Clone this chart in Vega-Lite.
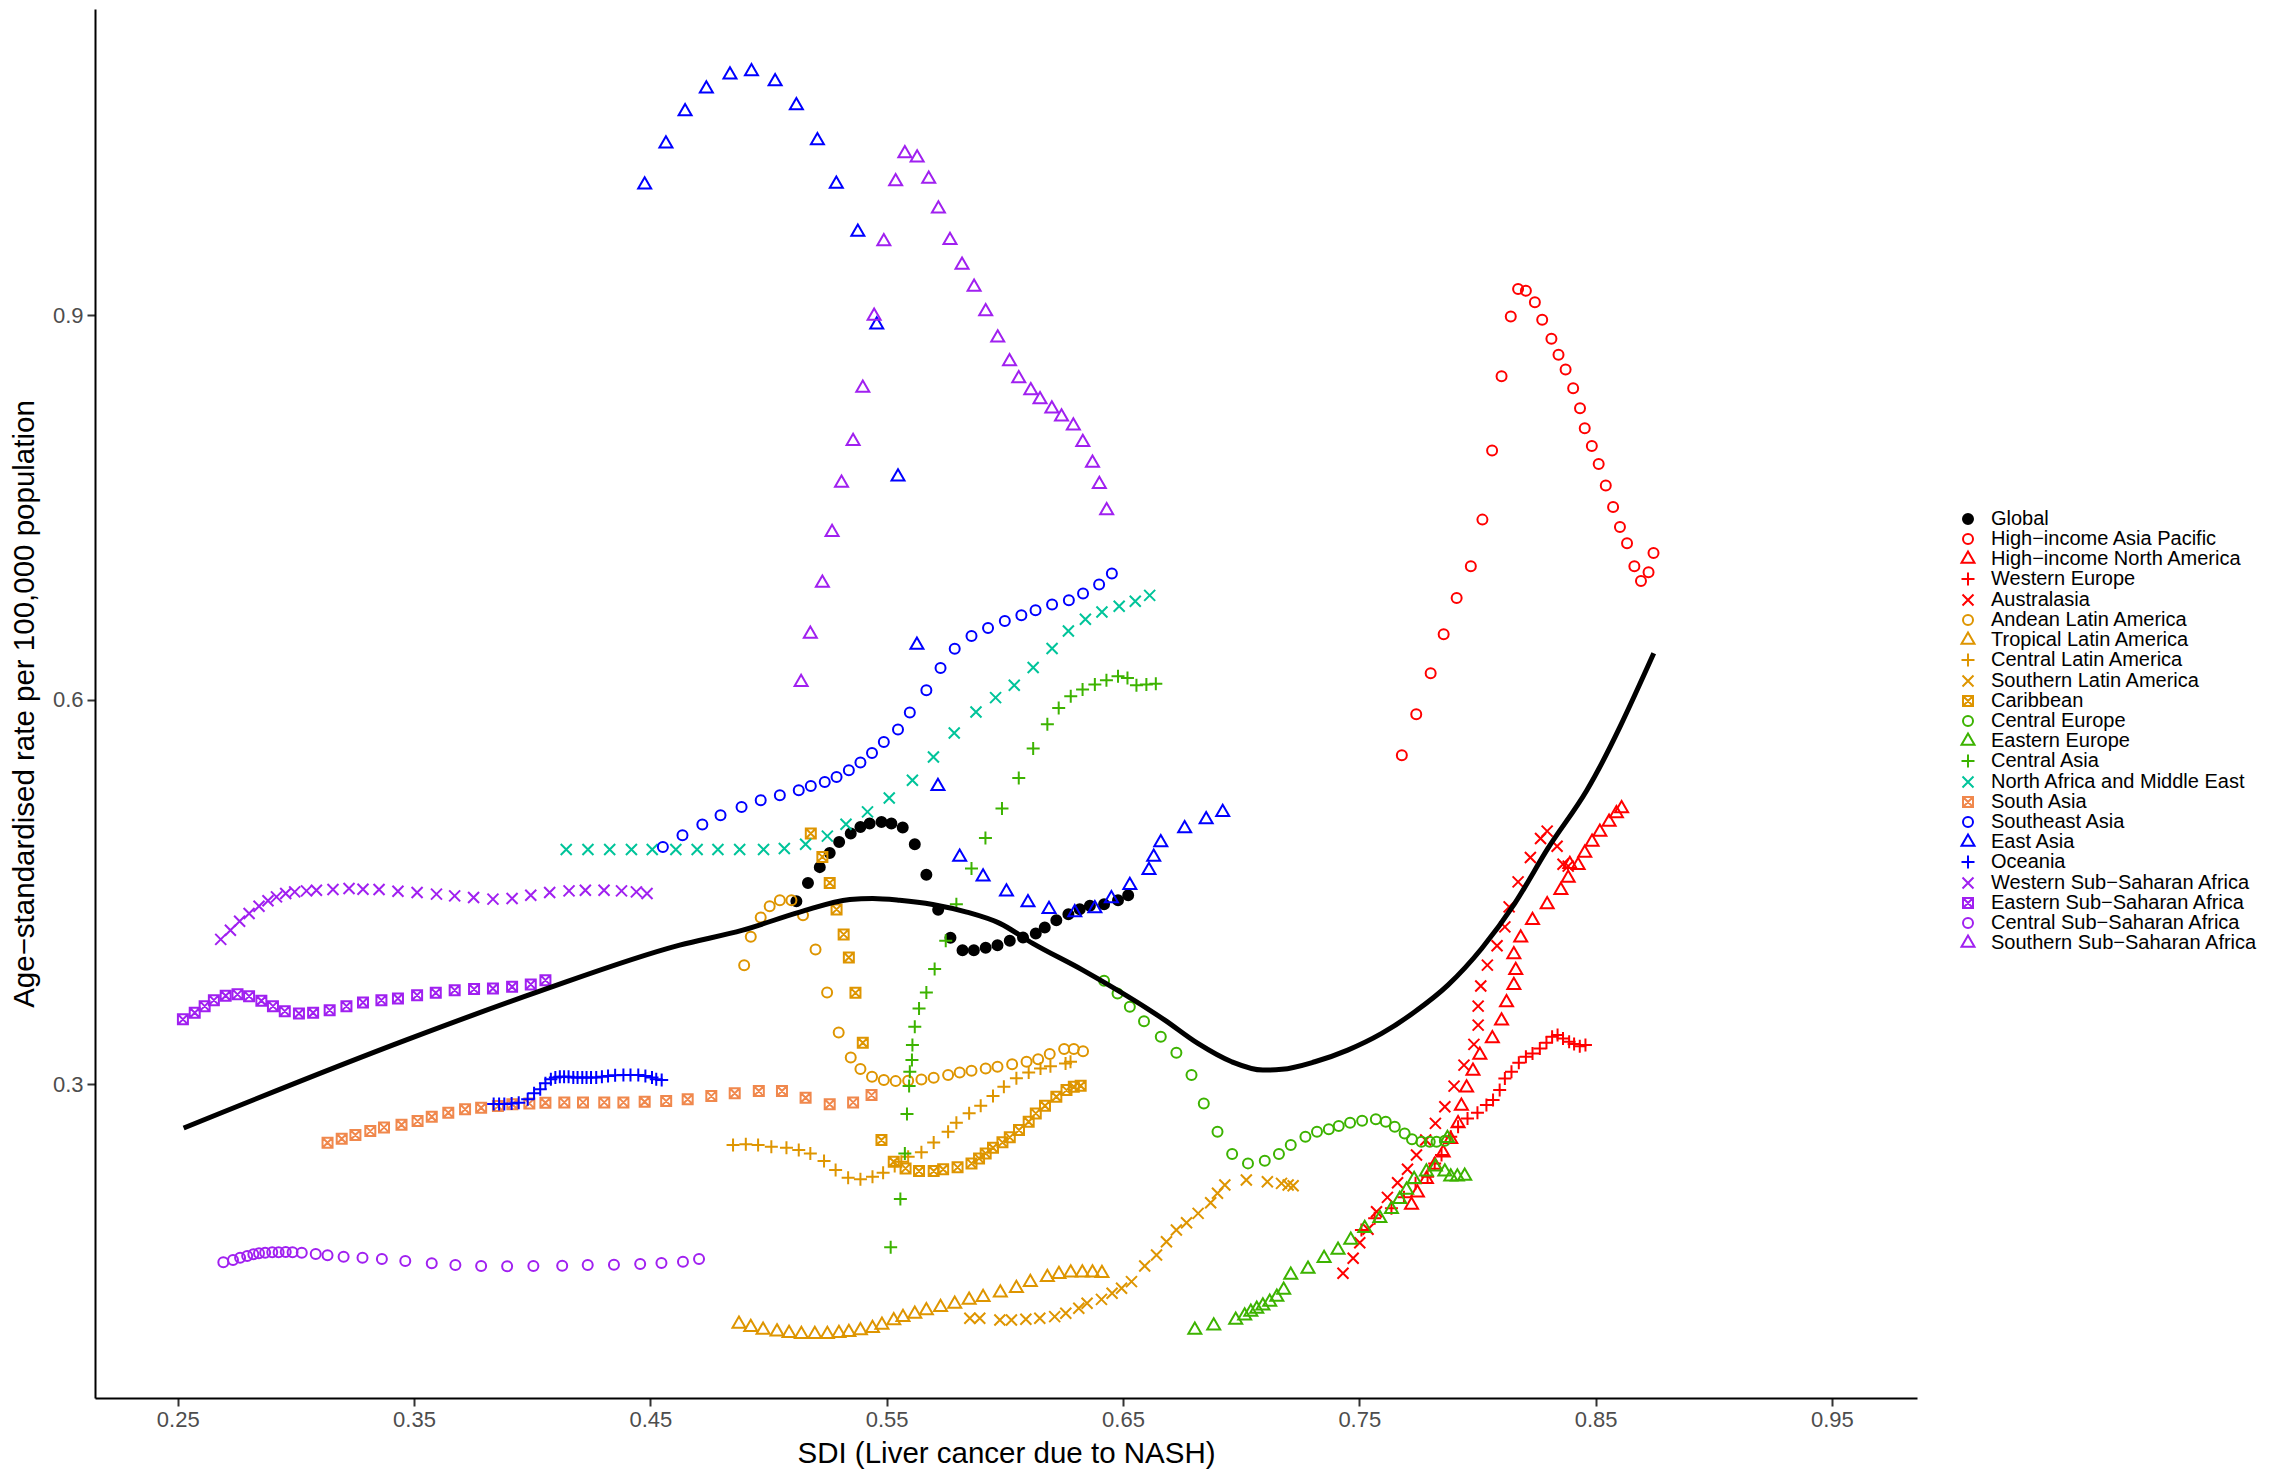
{
"$schema": "https://vega.github.io/schema/vega-lite/v6.json",
"width": 1822, "height": 1389,
"autosize": {"type": "none"},
"padding": {"left": 95, "top": 9, "right": 368, "bottom": 74},
"background": "white",
"config": {
 "view": {"stroke": null},
 "font": "Liberation Sans",
 "axis": {"grid": false, "domainColor": "black", "domainWidth": 2, "tickColor": "#333333", "tickWidth": 2, "tickSize": 8,
  "labelColor": "#4d4d4d", "labelFontSize": 22, "labelFont": "Liberation Sans",
  "titleFont": "Liberation Sans", "titleFontSize": 29.5, "titleFontWeight": "normal", "titleColor": "black"},
 "legend": {"labelFont": "Liberation Sans", "labelFontSize": 20, "labelColor": "black", "labelLimit": 0, "symbolStrokeWidth": 2, "symbolSize": 100,
  "rowPadding": -2, "labelOffset": 13, "padding": 0, "orient": "none", "legendX": 1863, "legendY": 500}
},
"datasets": {
 "regions": [
  {"c": "GL", "region": "Global"},
  {"c": "HAP", "region": "High−income Asia Pacific"},
  {"c": "HNA", "region": "High−income North America"},
  {"c": "WE", "region": "Western Europe"},
  {"c": "AUS", "region": "Australasia"},
  {"c": "ALA", "region": "Andean Latin America"},
  {"c": "TLA", "region": "Tropical Latin America"},
  {"c": "CLA", "region": "Central Latin America"},
  {"c": "SLA", "region": "Southern Latin America"},
  {"c": "CAR", "region": "Caribbean"},
  {"c": "CE", "region": "Central Europe"},
  {"c": "EE", "region": "Eastern Europe"},
  {"c": "CA", "region": "Central Asia"},
  {"c": "NAME", "region": "North Africa and Middle East"},
  {"c": "SA", "region": "South Asia"},
  {"c": "SEA", "region": "Southeast Asia"},
  {"c": "EA", "region": "East Asia"},
  {"c": "OC", "region": "Oceania"},
  {"c": "WSSA", "region": "Western Sub−Saharan Africa"},
  {"c": "ESSA", "region": "Eastern Sub−Saharan Africa"},
  {"c": "CSSA", "region": "Central Sub−Saharan Africa"},
  {"c": "SSSA", "region": "Southern Sub−Saharan Africa"}
 ],
 "smooth": [
  {"x": 0.2525, "y": 0.2657}, {"x": 0.3465, "y": 0.3343}, {"x": 0.4032, "y": 0.3725}, {"x": 0.4624, "y": 0.4084},
  {"x": 0.4891, "y": 0.4201}, {"x": 0.5132, "y": 0.4342}, {"x": 0.5344, "y": 0.4441}, {"x": 0.5441, "y": 0.4449},
  {"x": 0.5555, "y": 0.4435}, {"x": 0.5695, "y": 0.4402}, {"x": 0.5839, "y": 0.4342}, {"x": 0.5979, "y": 0.4254},
  {"x": 0.6118, "y": 0.4098}, {"x": 0.6330, "y": 0.3889}, {"x": 0.6677, "y": 0.3499}, {"x": 0.6817, "y": 0.3317},
  {"x": 0.6960, "y": 0.3174}, {"x": 0.7092, "y": 0.3109}, {"x": 0.7172, "y": 0.3115}, {"x": 0.7312, "y": 0.3174},
  {"x": 0.7451, "y": 0.3265}, {"x": 0.7595, "y": 0.3395}, {"x": 0.7735, "y": 0.3564}, {"x": 0.7875, "y": 0.3772},
  {"x": 0.8018, "y": 0.4058}, {"x": 0.8158, "y": 0.4410}, {"x": 0.8298, "y": 0.4839}, {"x": 0.8463, "y": 0.5293},
  {"x": 0.8746, "y": 0.6362}
 ],
 "pts": [
  {"c":"GL","x":0.5118,"y":0.4427},{"c":"GL","x":0.5167,"y":0.4570},{"c":"GL","x":0.5217,"y":0.4693},{"c":"GL","x":0.5259,"y":0.4804},{"c":"GL","x":0.5299,"y":0.4890},{"c":"GL","x":0.5348,"y":0.4956},{"c":"GL","x":0.5389,"y":0.5007},{"c":"GL","x":0.5428,"y":0.5033},{"c":"GL","x":0.5478,"y":0.5046},{"c":"GL","x":0.5520,"y":0.5033},{"c":"GL","x":0.5568,"y":0.5002},{"c":"GL","x":0.5619,"y":0.4872},{"c":"GL","x":0.5668,"y":0.4634},{"c":"GL","x":0.5718,"y":0.4361},{"c":"GL","x":0.5770,"y":0.4142},{"c":"GL","x":0.5821,"y":0.4045},{"c":"GL","x":0.5869,"y":0.4045},{"c":"GL","x":0.5919,"y":0.4063},{"c":"GL","x":0.5969,"y":0.4084},{"c":"GL","x":0.6021,"y":0.4118},{"c":"GL","x":0.6077,"y":0.4144},{"c":"GL","x":0.6131,"y":0.4175},{"c":"GL","x":0.6169,"y":0.4222},{"c":"GL","x":0.6218,"y":0.4279},{"c":"GL","x":0.6269,"y":0.4326},{"c":"GL","x":0.6317,"y":0.4365},{"c":"GL","x":0.6360,"y":0.4391},{"c":"GL","x":0.6420,"y":0.4404},{"c":"GL","x":0.6479,"y":0.4435},{"c":"GL","x":0.6522,"y":0.4474},
  {"c":"HAP","x":0.7680,"y":0.5566},{"c":"HAP","x":0.7741,"y":0.5886},{"c":"HAP","x":0.7802,"y":0.6206},{"c":"HAP","x":0.7857,"y":0.6510},{"c":"HAP","x":0.7912,"y":0.6793},{"c":"HAP","x":0.7972,"y":0.7041},{"c":"HAP","x":0.8021,"y":0.7405},{"c":"HAP","x":0.8062,"y":0.7945},{"c":"HAP","x":0.8102,"y":0.8523},{"c":"HAP","x":0.8141,"y":0.8991},{"c":"HAP","x":0.8172,"y":0.9204},{"c":"HAP","x":0.8205,"y":0.9191},{"c":"HAP","x":0.8243,"y":0.9102},{"c":"HAP","x":0.8274,"y":0.8965},{"c":"HAP","x":0.8313,"y":0.8817},{"c":"HAP","x":0.8343,"y":0.8692},{"c":"HAP","x":0.8373,"y":0.8577},{"c":"HAP","x":0.8405,"y":0.8431},{"c":"HAP","x":0.8434,"y":0.8275},{"c":"HAP","x":0.8454,"y":0.8119},{"c":"HAP","x":0.8484,"y":0.7979},{"c":"HAP","x":0.8513,"y":0.7839},{"c":"HAP","x":0.8543,"y":0.7672},{"c":"HAP","x":0.8574,"y":0.7503},{"c":"HAP","x":0.8603,"y":0.7347},{"c":"HAP","x":0.8633,"y":0.7220},{"c":"HAP","x":0.8664,"y":0.7041},{"c":"HAP","x":0.8692,"y":0.6926},{"c":"HAP","x":0.8724,"y":0.6994},{"c":"HAP","x":0.8745,"y":0.7144},
  {"c":"HNA","x":0.7721,"y":0.2056},{"c":"HNA","x":0.7746,"y":0.2152},{"c":"HNA","x":0.7784,"y":0.2257},{"c":"HNA","x":0.7819,"y":0.2368},{"c":"HNA","x":0.7855,"y":0.2464},{"c":"HNA","x":0.7887,"y":0.2569},{"c":"HNA","x":0.7918,"y":0.2693},{"c":"HNA","x":0.7932,"y":0.2828},{"c":"HNA","x":0.7954,"y":0.2971},{"c":"HNA","x":0.7981,"y":0.3101},{"c":"HNA","x":0.8010,"y":0.3226},{"c":"HNA","x":0.8063,"y":0.3356},{"c":"HNA","x":0.8102,"y":0.3494},{"c":"HNA","x":0.8123,"y":0.3637},{"c":"HNA","x":0.8154,"y":0.3772},{"c":"HNA","x":0.8162,"y":0.3889},{"c":"HNA","x":0.8154,"y":0.4012},{"c":"HNA","x":0.8183,"y":0.4141},{"c":"HNA","x":0.8233,"y":0.4279},{"c":"HNA","x":0.8295,"y":0.4402},{"c":"HNA","x":0.8353,"y":0.4513},{"c":"HNA","x":0.8384,"y":0.4609},{"c":"HNA","x":0.8391,"y":0.4716},{"c":"HNA","x":0.8426,"y":0.4708},{"c":"HNA","x":0.8454,"y":0.4804},{"c":"HNA","x":0.8485,"y":0.4890},{"c":"HNA","x":0.8518,"y":0.4968},{"c":"HNA","x":0.8557,"y":0.5046},{"c":"HNA","x":0.8588,"y":0.5111},{"c":"HNA","x":0.8610,"y":0.5150},
  {"c":"WE","x":0.7509,"y":0.1861},{"c":"WE","x":0.7565,"y":0.1952},{"c":"WE","x":0.7636,"y":0.2030},{"c":"WE","x":0.7689,"y":0.2116},{"c":"WE","x":0.7738,"y":0.2225},{"c":"WE","x":0.7789,"y":0.2277},{"c":"WE","x":0.7819,"y":0.2381},{"c":"WE","x":0.7848,"y":0.2446},{"c":"WE","x":0.7887,"y":0.2589},{"c":"WE","x":0.7918,"y":0.2667},{"c":"WE","x":0.7958,"y":0.2732},{"c":"WE","x":0.8000,"y":0.2776},{"c":"WE","x":0.8038,"y":0.2836},{"c":"WE","x":0.8066,"y":0.2875},{"c":"WE","x":0.8094,"y":0.2953},{"c":"WE","x":0.8116,"y":0.3044},{"c":"WE","x":0.8144,"y":0.3096},{"c":"WE","x":0.8175,"y":0.3166},{"c":"WE","x":0.8205,"y":0.3213},{"c":"WE","x":0.8233,"y":0.3239},{"c":"WE","x":0.8264,"y":0.3278},{"c":"WE","x":0.8292,"y":0.3322},{"c":"WE","x":0.8316,"y":0.3369},{"c":"WE","x":0.8339,"y":0.3382},{"c":"WE","x":0.8362,"y":0.3356},{"c":"WE","x":0.8388,"y":0.3330},{"c":"WE","x":0.8409,"y":0.3312},{"c":"WE","x":0.8433,"y":0.3296},{"c":"WE","x":0.8457,"y":0.3304},
  {"c":"AUS","x":0.7431,"y":0.1523},{"c":"AUS","x":0.7474,"y":0.1640},{"c":"AUS","x":0.7502,"y":0.1762},{"c":"AUS","x":0.7537,"y":0.1867},{"c":"AUS","x":0.7573,"y":0.2004},{"c":"AUS","x":0.7619,"y":0.2116},{"c":"AUS","x":0.7662,"y":0.2230},{"c":"AUS","x":0.7704,"y":0.2335},{"c":"AUS","x":0.7742,"y":0.2446},{"c":"AUS","x":0.7781,"y":0.2563},{"c":"AUS","x":0.7822,"y":0.2693},{"c":"AUS","x":0.7862,"y":0.2823},{"c":"AUS","x":0.7901,"y":0.2984},{"c":"AUS","x":0.7943,"y":0.3148},{"c":"AUS","x":0.7985,"y":0.3310},{"c":"AUS","x":0.8003,"y":0.3460},{"c":"AUS","x":0.8003,"y":0.3608},{"c":"AUS","x":0.8014,"y":0.3765},{"c":"AUS","x":0.8042,"y":0.3928},{"c":"AUS","x":0.8083,"y":0.4079},{"c":"AUS","x":0.8116,"y":0.4227},{"c":"AUS","x":0.8134,"y":0.4383},{"c":"AUS","x":0.8172,"y":0.4578},{"c":"AUS","x":0.8224,"y":0.4768},{"c":"AUS","x":0.8267,"y":0.4917},{"c":"AUS","x":0.8295,"y":0.4974},{"c":"AUS","x":0.8337,"y":0.4856},{"c":"AUS","x":0.8362,"y":0.4716},{"c":"AUS","x":0.8384,"y":0.4701},
  {"c":"ALA","x":0.4897,"y":0.3928},{"c":"ALA","x":0.4925,"y":0.4149},{"c":"ALA","x":0.4967,"y":0.4300},{"c":"ALA","x":0.5005,"y":0.4388},{"c":"ALA","x":0.5048,"y":0.4435},{"c":"ALA","x":0.5097,"y":0.4435},{"c":"ALA","x":0.5146,"y":0.4318},{"c":"ALA","x":0.5199,"y":0.4051},{"c":"ALA","x":0.5248,"y":0.3715},{"c":"ALA","x":0.5297,"y":0.3403},{"c":"ALA","x":0.5348,"y":0.3208},{"c":"ALA","x":0.5389,"y":0.3117},{"c":"ALA","x":0.5438,"y":0.3057},{"c":"ALA","x":0.5488,"y":0.3031},{"c":"ALA","x":0.5538,"y":0.3023},{"c":"ALA","x":0.5591,"y":0.3026},{"c":"ALA","x":0.5647,"y":0.3036},{"c":"ALA","x":0.5699,"y":0.3049},{"c":"ALA","x":0.5760,"y":0.3070},{"c":"ALA","x":0.5809,"y":0.3091},{"c":"ALA","x":0.5859,"y":0.3104},{"c":"ALA","x":0.5919,"y":0.3122},{"c":"ALA","x":0.5969,"y":0.3135},{"c":"ALA","x":0.6031,"y":0.3154},{"c":"ALA","x":0.6092,"y":0.3174},{"c":"ALA","x":0.6141,"y":0.3193},{"c":"ALA","x":0.6190,"y":0.3234},{"c":"ALA","x":0.6251,"y":0.3273},{"c":"ALA","x":0.6292,"y":0.3273},{"c":"ALA","x":0.6331,"y":0.3257},
  {"c":"TLA","x":0.4875,"y":0.1128},{"c":"TLA","x":0.4925,"y":0.1102},{"c":"TLA","x":0.4977,"y":0.1081},{"c":"TLA","x":0.5036,"y":0.1068},{"c":"TLA","x":0.5087,"y":0.1055},{"c":"TLA","x":0.5139,"y":0.1048},{"c":"TLA","x":0.5196,"y":0.1048},{"c":"TLA","x":0.5249,"y":0.1048},{"c":"TLA","x":0.5298,"y":0.1055},{"c":"TLA","x":0.5340,"y":0.1063},{"c":"TLA","x":0.5389,"y":0.1076},{"c":"TLA","x":0.5440,"y":0.1094},{"c":"TLA","x":0.5480,"y":0.1120},{"c":"TLA","x":0.5530,"y":0.1154},{"c":"TLA","x":0.5569,"y":0.1180},{"c":"TLA","x":0.5619,"y":0.1206},{"c":"TLA","x":0.5668,"y":0.1232},{"c":"TLA","x":0.5728,"y":0.1258},{"c":"TLA","x":0.5788,"y":0.1284},{"c":"TLA","x":0.5849,"y":0.1315},{"c":"TLA","x":0.5908,"y":0.1336},{"c":"TLA","x":0.5981,"y":0.1372},{"c":"TLA","x":0.6049,"y":0.1406},{"c":"TLA","x":0.6108,"y":0.1453},{"c":"TLA","x":0.6180,"y":0.1492},{"c":"TLA","x":0.6229,"y":0.1516},{"c":"TLA","x":0.6279,"y":0.1528},{"c":"TLA","x":0.6328,"y":0.1528},{"c":"TLA","x":0.6371,"y":0.1528},{"c":"TLA","x":0.6411,"y":0.1523},
  {"c":"CLA","x":0.4850,"y":0.2524},{"c":"CLA","x":0.4904,"y":0.2530},{"c":"CLA","x":0.4956,"y":0.2524},{"c":"CLA","x":0.5012,"y":0.2511},{"c":"CLA","x":0.5076,"y":0.2503},{"c":"CLA","x":0.5128,"y":0.2485},{"c":"CLA","x":0.5177,"y":0.2459},{"c":"CLA","x":0.5235,"y":0.2399},{"c":"CLA","x":0.5284,"y":0.2329},{"c":"CLA","x":0.5337,"y":0.2269},{"c":"CLA","x":0.5389,"y":0.2257},{"c":"CLA","x":0.5440,"y":0.2277},{"c":"CLA","x":0.5485,"y":0.2308},{"c":"CLA","x":0.5534,"y":0.2361},{"c":"CLA","x":0.5562,"y":0.2394},{"c":"CLA","x":0.5591,"y":0.2433},{"c":"CLA","x":0.5647,"y":0.2468},{"c":"CLA","x":0.5699,"y":0.2543},{"c":"CLA","x":0.5760,"y":0.2628},{"c":"CLA","x":0.5795,"y":0.2699},{"c":"CLA","x":0.5849,"y":0.2772},{"c":"CLA","x":0.5898,"y":0.2831},{"c":"CLA","x":0.5950,"y":0.2907},{"c":"CLA","x":0.5996,"y":0.2979},{"c":"CLA","x":0.6049,"y":0.3045},{"c":"CLA","x":0.6101,"y":0.3091},{"c":"CLA","x":0.6151,"y":0.3122},{"c":"CLA","x":0.6193,"y":0.3140},{"c":"CLA","x":0.6257,"y":0.3161},{"c":"CLA","x":0.6278,"y":0.3174},
  {"c":"SLA","x":0.5852,"y":0.1172},{"c":"SLA","x":0.5894,"y":0.1172},{"c":"SLA","x":0.5979,"y":0.1159},{"c":"SLA","x":0.6028,"y":0.1159},{"c":"SLA","x":0.6089,"y":0.1165},{"c":"SLA","x":0.6148,"y":0.1172},{"c":"SLA","x":0.6211,"y":0.1185},{"c":"SLA","x":0.6258,"y":0.1211},{"c":"SLA","x":0.6313,"y":0.1250},{"c":"SLA","x":0.6348,"y":0.1289},{"c":"SLA","x":0.6409,"y":0.1320},{"c":"SLA","x":0.6454,"y":0.1367},{"c":"SLA","x":0.6494,"y":0.1406},{"c":"SLA","x":0.6536,"y":0.1458},{"c":"SLA","x":0.6592,"y":0.1580},{"c":"SLA","x":0.6642,"y":0.1666},{"c":"SLA","x":0.6684,"y":0.1770},{"c":"SLA","x":0.6726,"y":0.1861},{"c":"SLA","x":0.6769,"y":0.1918},{"c":"SLA","x":0.6818,"y":0.1991},{"c":"SLA","x":0.6871,"y":0.2074},{"c":"SLA","x":0.6900,"y":0.2148},{"c":"SLA","x":0.6931,"y":0.2212},{"c":"SLA","x":0.7022,"y":0.2251},{"c":"SLA","x":0.7111,"y":0.2238},{"c":"SLA","x":0.7171,"y":0.2225},{"c":"SLA","x":0.7199,"y":0.2212},{"c":"SLA","x":0.7220,"y":0.2206},
  {"c":"CAR","x":0.5179,"y":0.4956},{"c":"CAR","x":0.5228,"y":0.4773},{"c":"CAR","x":0.5259,"y":0.4570},{"c":"CAR","x":0.5288,"y":0.4363},{"c":"CAR","x":0.5318,"y":0.4168},{"c":"CAR","x":0.5340,"y":0.3988},{"c":"CAR","x":0.5368,"y":0.3712},{"c":"CAR","x":0.5399,"y":0.3322},{"c":"CAR","x":0.5478,"y":0.2563},{"c":"CAR","x":0.5530,"y":0.2394},{"c":"CAR","x":0.5580,"y":0.2342},{"c":"CAR","x":0.5637,"y":0.2321},{"c":"CAR","x":0.5699,"y":0.2321},{"c":"CAR","x":0.5739,"y":0.2335},{"c":"CAR","x":0.5800,"y":0.2350},{"c":"CAR","x":0.5859,"y":0.2381},{"c":"CAR","x":0.5891,"y":0.2420},{"c":"CAR","x":0.5919,"y":0.2459},{"c":"CAR","x":0.5950,"y":0.2503},{"c":"CAR","x":0.5990,"y":0.2545},{"c":"CAR","x":0.6021,"y":0.2584},{"c":"CAR","x":0.6060,"y":0.2641},{"c":"CAR","x":0.6101,"y":0.2706},{"c":"CAR","x":0.6131,"y":0.2771},{"c":"CAR","x":0.6170,"y":0.2831},{"c":"CAR","x":0.6218,"y":0.2901},{"c":"CAR","x":0.6261,"y":0.2953},{"c":"CAR","x":0.6292,"y":0.2979},{"c":"CAR","x":0.6321,"y":0.2987},
  {"c":"CE","x":0.6420,"y":0.3806},{"c":"CE","x":0.6477,"y":0.3707},{"c":"CE","x":0.6529,"y":0.3603},{"c":"CE","x":0.6589,"y":0.3491},{"c":"CE","x":0.6660,"y":0.3369},{"c":"CE","x":0.6726,"y":0.3244},{"c":"CE","x":0.6790,"y":0.3070},{"c":"CE","x":0.6842,"y":0.2849},{"c":"CE","x":0.6900,"y":0.2628},{"c":"CE","x":0.6962,"y":0.2454},{"c":"CE","x":0.7029,"y":0.2381},{"c":"CE","x":0.7100,"y":0.2402},{"c":"CE","x":0.7160,"y":0.2454},{"c":"CE","x":0.7210,"y":0.2525},{"c":"CE","x":0.7272,"y":0.2589},{"c":"CE","x":0.7321,"y":0.2628},{"c":"CE","x":0.7371,"y":0.2647},{"c":"CE","x":0.7413,"y":0.2672},{"c":"CE","x":0.7461,"y":0.2698},{"c":"CE","x":0.7512,"y":0.2714},{"c":"CE","x":0.7570,"y":0.2725},{"c":"CE","x":0.7612,"y":0.2706},{"c":"CE","x":0.7650,"y":0.2667},{"c":"CE","x":0.7692,"y":0.2615},{"c":"CE","x":0.7723,"y":0.2569},{"c":"CE","x":0.7763,"y":0.2550},{"c":"CE","x":0.7798,"y":0.2550},{"c":"CE","x":0.7827,"y":0.2550},{"c":"CE","x":0.7862,"y":0.2558},
  {"c":"EE","x":0.6804,"y":0.1081},{"c":"EE","x":0.6884,"y":0.1113},{"c":"EE","x":0.6977,"y":0.1159},{"c":"EE","x":0.7015,"y":0.1191},{"c":"EE","x":0.7041,"y":0.1222},{"c":"EE","x":0.7066,"y":0.1245},{"c":"EE","x":0.7092,"y":0.1269},{"c":"EE","x":0.7121,"y":0.1300},{"c":"EE","x":0.7151,"y":0.1339},{"c":"EE","x":0.7180,"y":0.1393},{"c":"EE","x":0.7210,"y":0.1510},{"c":"EE","x":0.7283,"y":0.1557},{"c":"EE","x":0.7351,"y":0.1640},{"c":"EE","x":0.7410,"y":0.1705},{"c":"EE","x":0.7464,"y":0.1783},{"c":"EE","x":0.7523,"y":0.1874},{"c":"EE","x":0.7587,"y":0.1952},{"c":"EE","x":0.7636,"y":0.2023},{"c":"EE","x":0.7671,"y":0.2101},{"c":"EE","x":0.7700,"y":0.2173},{"c":"EE","x":0.7732,"y":0.2257},{"c":"EE","x":0.7784,"y":0.2316},{"c":"EE","x":0.7822,"y":0.2355},{"c":"EE","x":0.7862,"y":0.2316},{"c":"EE","x":0.7887,"y":0.2277},{"c":"EE","x":0.7915,"y":0.2277},{"c":"EE","x":0.7946,"y":0.2282},{"c":"EE","x":0.7873,"y":0.2577},
  {"c":"CA","x":0.5517,"y":0.1726},{"c":"CA","x":0.5558,"y":0.2103},{"c":"CA","x":0.5577,"y":0.2459},{"c":"CA","x":0.5586,"y":0.2766},{"c":"CA","x":0.5595,"y":0.2984},{"c":"CA","x":0.5598,"y":0.3096},{"c":"CA","x":0.5607,"y":0.3187},{"c":"CA","x":0.5609,"y":0.3304},{"c":"CA","x":0.5619,"y":0.3447},{"c":"CA","x":0.5637,"y":0.3590},{"c":"CA","x":0.5668,"y":0.3715},{"c":"CA","x":0.5703,"y":0.3898},{"c":"CA","x":0.5750,"y":0.4118},{"c":"CA","x":0.5795,"y":0.4404},{"c":"CA","x":0.5859,"y":0.4683},{"c":"CA","x":0.5918,"y":0.4921},{"c":"CA","x":0.5988,"y":0.5151},{"c":"CA","x":0.6059,"y":0.5389},{"c":"CA","x":0.6120,"y":0.5619},{"c":"CA","x":0.6180,"y":0.5808},{"c":"CA","x":0.6228,"y":0.5935},{"c":"CA","x":0.6279,"y":0.6027},{"c":"CA","x":0.6329,"y":0.6079},{"c":"CA","x":0.6381,"y":0.6118},{"c":"CA","x":0.6430,"y":0.6151},{"c":"CA","x":0.6479,"y":0.6183},{"c":"CA","x":0.6519,"y":0.6169},{"c":"CA","x":0.6557,"y":0.6112},{"c":"CA","x":0.6599,"y":0.6118},{"c":"CA","x":0.6639,"y":0.6125},
  {"c":"NAME","x":0.4144,"y":0.4831},{"c":"NAME","x":0.4236,"y":0.4831},{"c":"NAME","x":0.4328,"y":0.4831},{"c":"NAME","x":0.4420,"y":0.4831},{"c":"NAME","x":0.4508,"y":0.4831},{"c":"NAME","x":0.4608,"y":0.4831},{"c":"NAME","x":0.4698,"y":0.4831},{"c":"NAME","x":0.4786,"y":0.4831},{"c":"NAME","x":0.4878,"y":0.4831},{"c":"NAME","x":0.4979,"y":0.4831},{"c":"NAME","x":0.5067,"y":0.4839},{"c":"NAME","x":0.5157,"y":0.4872},{"c":"NAME","x":0.5249,"y":0.4935},{"c":"NAME","x":0.5328,"y":0.5028},{"c":"NAME","x":0.5419,"y":0.5124},{"c":"NAME","x":0.5511,"y":0.5233},{"c":"NAME","x":0.5609,"y":0.5371},{"c":"NAME","x":0.5698,"y":0.5553},{"c":"NAME","x":0.5786,"y":0.5740},{"c":"NAME","x":0.5878,"y":0.5904},{"c":"NAME","x":0.5961,"y":0.6016},{"c":"NAME","x":0.6040,"y":0.6112},{"c":"NAME","x":0.6120,"y":0.6251},{"c":"NAME","x":0.6200,"y":0.6399},{"c":"NAME","x":0.6269,"y":0.6536},{"c":"NAME","x":0.6341,"y":0.6627},{"c":"NAME","x":0.6411,"y":0.6684},{"c":"NAME","x":0.6484,"y":0.6729},{"c":"NAME","x":0.6552,"y":0.6768},{"c":"NAME","x":0.6613,"y":0.6814},
  {"c":"SA","x":0.3134,"y":0.2542},{"c":"SA","x":0.3194,"y":0.2573},{"c":"SA","x":0.3252,"y":0.2602},{"c":"SA","x":0.3315,"y":0.2633},{"c":"SA","x":0.3373,"y":0.2662},{"c":"SA","x":0.3447,"y":0.2683},{"c":"SA","x":0.3515,"y":0.2711},{"c":"SA","x":0.3575,"y":0.2745},{"c":"SA","x":0.3645,"y":0.2776},{"c":"SA","x":0.3716,"y":0.2803},{"c":"SA","x":0.3784,"y":0.2815},{"c":"SA","x":0.3855,"y":0.2828},{"c":"SA","x":0.3916,"y":0.2842},{"c":"SA","x":0.3988,"y":0.2849},{"c":"SA","x":0.4056,"y":0.2854},{"c":"SA","x":0.4136,"y":0.2857},{"c":"SA","x":0.4215,"y":0.2857},{"c":"SA","x":0.4305,"y":0.2857},{"c":"SA","x":0.4386,"y":0.2857},{"c":"SA","x":0.4476,"y":0.2862},{"c":"SA","x":0.4567,"y":0.2867},{"c":"SA","x":0.4658,"y":0.2881},{"c":"SA","x":0.4758,"y":0.2906},{"c":"SA","x":0.4857,"y":0.2928},{"c":"SA","x":0.4959,"y":0.2946},{"c":"SA","x":0.5057,"y":0.2946},{"c":"SA","x":0.5157,"y":0.2893},{"c":"SA","x":0.5259,"y":0.2842},{"c":"SA","x":0.5358,"y":0.2857},{"c":"SA","x":0.5436,"y":0.2914},
  {"c":"SEA","x":0.4553,"y":0.4851},{"c":"SEA","x":0.4636,"y":0.4942},{"c":"SEA","x":0.4720,"y":0.5026},{"c":"SEA","x":0.4797,"y":0.5098},{"c":"SEA","x":0.4886,"y":0.5163},{"c":"SEA","x":0.4967,"y":0.5215},{"c":"SEA","x":0.5048,"y":0.5254},{"c":"SEA","x":0.5128,"y":0.5293},{"c":"SEA","x":0.5179,"y":0.5327},{"c":"SEA","x":0.5238,"y":0.5358},{"c":"SEA","x":0.5288,"y":0.5397},{"c":"SEA","x":0.5340,"y":0.5449},{"c":"SEA","x":0.5389,"y":0.5509},{"c":"SEA","x":0.5438,"y":0.5584},{"c":"SEA","x":0.5488,"y":0.5670},{"c":"SEA","x":0.5548,"y":0.5767},{"c":"SEA","x":0.5598,"y":0.5899},{"c":"SEA","x":0.5668,"y":0.6073},{"c":"SEA","x":0.5728,"y":0.6247},{"c":"SEA","x":0.5788,"y":0.6398},{"c":"SEA","x":0.5859,"y":0.6497},{"c":"SEA","x":0.5929,"y":0.6559},{"c":"SEA","x":0.6000,"y":0.6614},{"c":"SEA","x":0.6070,"y":0.6658},{"c":"SEA","x":0.6130,"y":0.6697},{"c":"SEA","x":0.6200,"y":0.6742},{"c":"SEA","x":0.6271,"y":0.6775},{"c":"SEA","x":0.6331,"y":0.6828},{"c":"SEA","x":0.6399,"y":0.6898},{"c":"SEA","x":0.6453,"y":0.6984},
  {"c":"EA","x":0.4476,"y":1.0018},{"c":"EA","x":0.4566,"y":1.0338},{"c":"EA","x":0.4647,"y":1.0590},{"c":"EA","x":0.4737,"y":1.0767},{"c":"EA","x":0.4837,"y":1.0876},{"c":"EA","x":0.4928,"y":1.0902},{"c":"EA","x":0.5028,"y":1.0824},{"c":"EA","x":0.5118,"y":1.0637},{"c":"EA","x":0.5207,"y":1.0363},{"c":"EA","x":0.5287,"y":1.0024},{"c":"EA","x":0.5378,"y":0.9650},{"c":"EA","x":0.5458,"y":0.8926},{"c":"EA","x":0.5548,"y":0.7739},{"c":"EA","x":0.5628,"y":0.6427},{"c":"EA","x":0.5717,"y":0.5325},{"c":"EA","x":0.5809,"y":0.4773},{"c":"EA","x":0.5908,"y":0.4617},{"c":"EA","x":0.6007,"y":0.4500},{"c":"EA","x":0.6098,"y":0.4417},{"c":"EA","x":0.6187,"y":0.4365},{"c":"EA","x":0.6296,"y":0.4339},{"c":"EA","x":0.6381,"y":0.4370},{"c":"EA","x":0.6451,"y":0.4448},{"c":"EA","x":0.6529,"y":0.4552},{"c":"EA","x":0.6610,"y":0.4669},{"c":"EA","x":0.6630,"y":0.4773},{"c":"EA","x":0.6660,"y":0.4885},{"c":"EA","x":0.6761,"y":0.4995},{"c":"EA","x":0.6852,"y":0.5065},{"c":"EA","x":0.6922,"y":0.5122},
  {"c":"OC","x":0.3837,"y":0.2844},{"c":"OC","x":0.3860,"y":0.2844},{"c":"OC","x":0.3882,"y":0.2844},{"c":"OC","x":0.3913,"y":0.2849},{"c":"OC","x":0.3943,"y":0.2854},{"c":"OC","x":0.3981,"y":0.2881},{"c":"OC","x":0.4008,"y":0.2928},{"c":"OC","x":0.4034,"y":0.2959},{"c":"OC","x":0.4056,"y":0.3006},{"c":"OC","x":0.4079,"y":0.3037},{"c":"OC","x":0.4098,"y":0.3052},{"c":"OC","x":0.4117,"y":0.3057},{"c":"OC","x":0.4135,"y":0.3057},{"c":"OC","x":0.4154,"y":0.3057},{"c":"OC","x":0.4174,"y":0.3052},{"c":"OC","x":0.4192,"y":0.3052},{"c":"OC","x":0.4212,"y":0.3052},{"c":"OC","x":0.4230,"y":0.3052},{"c":"OC","x":0.4249,"y":0.3052},{"c":"OC","x":0.4271,"y":0.3052},{"c":"OC","x":0.4295,"y":0.3057},{"c":"OC","x":0.4321,"y":0.3062},{"c":"OC","x":0.4351,"y":0.3068},{"c":"OC","x":0.4386,"y":0.3070},{"c":"OC","x":0.4416,"y":0.3070},{"c":"OC","x":0.4449,"y":0.3070},{"c":"OC","x":0.4479,"y":0.3062},{"c":"OC","x":0.4507,"y":0.3052},{"c":"OC","x":0.4525,"y":0.3037},{"c":"OC","x":0.4548,"y":0.3031},
  {"c":"WSSA","x":0.2682,"y":0.4129},{"c":"WSSA","x":0.2723,"y":0.4201},{"c":"WSSA","x":0.2762,"y":0.4271},{"c":"WSSA","x":0.2802,"y":0.4331},{"c":"WSSA","x":0.2844,"y":0.4388},{"c":"WSSA","x":0.2882,"y":0.4430},{"c":"WSSA","x":0.2918,"y":0.4461},{"c":"WSSA","x":0.2957,"y":0.4487},{"c":"WSSA","x":0.2995,"y":0.4500},{"c":"WSSA","x":0.3045,"y":0.4508},{"c":"WSSA","x":0.3087,"y":0.4513},{"c":"WSSA","x":0.3157,"y":0.4519},{"c":"WSSA","x":0.3225,"y":0.4526},{"c":"WSSA","x":0.3284,"y":0.4521},{"c":"WSSA","x":0.3352,"y":0.4519},{"c":"WSSA","x":0.3432,"y":0.4505},{"c":"WSSA","x":0.3513,"y":0.4495},{"c":"WSSA","x":0.3595,"y":0.4482},{"c":"WSSA","x":0.3672,"y":0.4469},{"c":"WSSA","x":0.3752,"y":0.4456},{"c":"WSSA","x":0.3834,"y":0.4443},{"c":"WSSA","x":0.3915,"y":0.4448},{"c":"WSSA","x":0.3994,"y":0.4474},{"c":"WSSA","x":0.4074,"y":0.4495},{"c":"WSSA","x":0.4156,"y":0.4508},{"c":"WSSA","x":0.4225,"y":0.4513},{"c":"WSSA","x":0.4304,"y":0.4513},{"c":"WSSA","x":0.4378,"y":0.4508},{"c":"WSSA","x":0.4441,"y":0.4500},{"c":"WSSA","x":0.4486,"y":0.4487},
  {"c":"ESSA","x":0.2522,"y":0.3505},{"c":"ESSA","x":0.2572,"y":0.3556},{"c":"ESSA","x":0.2614,"y":0.3608},{"c":"ESSA","x":0.2653,"y":0.3655},{"c":"ESSA","x":0.2703,"y":0.3689},{"c":"ESSA","x":0.2753,"y":0.3700},{"c":"ESSA","x":0.2802,"y":0.3686},{"c":"ESSA","x":0.2854,"y":0.3650},{"c":"ESSA","x":0.2903,"y":0.3608},{"c":"ESSA","x":0.2953,"y":0.3569},{"c":"ESSA","x":0.3013,"y":0.3551},{"c":"ESSA","x":0.3073,"y":0.3556},{"c":"ESSA","x":0.3143,"y":0.3577},{"c":"ESSA","x":0.3214,"y":0.3608},{"c":"ESSA","x":0.3284,"y":0.3637},{"c":"ESSA","x":0.3362,"y":0.3655},{"c":"ESSA","x":0.3432,"y":0.3668},{"c":"ESSA","x":0.3513,"y":0.3694},{"c":"ESSA","x":0.3592,"y":0.3712},{"c":"ESSA","x":0.3672,"y":0.3733},{"c":"ESSA","x":0.3754,"y":0.3741},{"c":"ESSA","x":0.3834,"y":0.3746},{"c":"ESSA","x":0.3915,"y":0.3759},{"c":"ESSA","x":0.3994,"y":0.3778},{"c":"ESSA","x":0.4056,"y":0.3811},
  {"c":"CSSA","x":0.2693,"y":0.1609},{"c":"CSSA","x":0.2734,"y":0.1627},{"c":"CSSA","x":0.2764,"y":0.1645},{"c":"CSSA","x":0.2794,"y":0.1658},{"c":"CSSA","x":0.2820,"y":0.1672},{"c":"CSSA","x":0.2844,"y":0.1679},{"c":"CSSA","x":0.2870,"y":0.1684},{"c":"CSSA","x":0.2900,"y":0.1687},{"c":"CSSA","x":0.2927,"y":0.1687},{"c":"CSSA","x":0.2957,"y":0.1690},{"c":"CSSA","x":0.2986,"y":0.1687},{"c":"CSSA","x":0.3025,"y":0.1684},{"c":"CSSA","x":0.3084,"y":0.1674},{"c":"CSSA","x":0.3134,"y":0.1664},{"c":"CSSA","x":0.3202,"y":0.1653},{"c":"CSSA","x":0.3282,"y":0.1645},{"c":"CSSA","x":0.3364,"y":0.1635},{"c":"CSSA","x":0.3463,"y":0.1619},{"c":"CSSA","x":0.3575,"y":0.1601},{"c":"CSSA","x":0.3675,"y":0.1588},{"c":"CSSA","x":0.3784,"y":0.1580},{"c":"CSSA","x":0.3894,"y":0.1578},{"c":"CSSA","x":0.4005,"y":0.1580},{"c":"CSSA","x":0.4127,"y":0.1583},{"c":"CSSA","x":0.4235,"y":0.1588},{"c":"CSSA","x":0.4346,"y":0.1590},{"c":"CSSA","x":0.4457,"y":0.1596},{"c":"CSSA","x":0.4547,"y":0.1604},{"c":"CSSA","x":0.4638,"y":0.1614},{"c":"CSSA","x":0.4706,"y":0.1635},
  {"c":"SSSA","x":0.5577,"y":1.0263},{"c":"SSSA","x":0.5629,"y":1.0229},{"c":"SSSA","x":0.5538,"y":1.0044},{"c":"SSSA","x":0.5678,"y":1.0064},{"c":"SSSA","x":0.5719,"y":0.9831},{"c":"SSSA","x":0.5488,"y":0.9576},{"c":"SSSA","x":0.5768,"y":0.9585},{"c":"SSSA","x":0.5819,"y":0.9392},{"c":"SSSA","x":0.5870,"y":0.9221},{"c":"SSSA","x":0.5919,"y":0.9029},{"c":"SSSA","x":0.5970,"y":0.8824},{"c":"SSSA","x":0.6020,"y":0.8640},{"c":"SSSA","x":0.6059,"y":0.8507},{"c":"SSSA","x":0.6110,"y":0.8413},{"c":"SSSA","x":0.6149,"y":0.8342},{"c":"SSSA","x":0.6199,"y":0.8271},{"c":"SSSA","x":0.6240,"y":0.8207},{"c":"SSSA","x":0.6290,"y":0.8138},{"c":"SSSA","x":0.6330,"y":0.8008},{"c":"SSSA","x":0.6371,"y":0.7846},{"c":"SSSA","x":0.6400,"y":0.7682},{"c":"SSSA","x":0.6431,"y":0.7477},{"c":"SSSA","x":0.5447,"y":0.8995},{"c":"SSSA","x":0.5399,"y":0.8433},{"c":"SSSA","x":0.5358,"y":0.8016},{"c":"SSSA","x":0.5309,"y":0.7690},{"c":"SSSA","x":0.5269,"y":0.7307},{"c":"SSSA","x":0.5228,"y":0.6910},{"c":"SSSA","x":0.5177,"y":0.6513},{"c":"SSSA","x":0.5138,"y":0.6136}
 ]
},
"layer": [
 {
  "data": {"name": "pts"},
  "transform": [{"lookup": "c", "from": {"data": {"name": "regions"}, "key": "c", "fields": ["region"]}}],
  "mark": {"type": "point", "size": 100, "strokeWidth": 2, "opacity": 1},
  "encoding": {
   "x": {"field": "x", "type": "quantitative", "title": "SDI (Liver cancer due to NASH)",
    "scale": {"domain": [0.215, 0.986], "nice": false, "zero": false},
    "axis": {"values": [0.25, 0.35, 0.45, 0.55, 0.65, 0.75, 0.85, 0.95], "format": ".2f", "labelPadding": 3, "titleY": 64, "titleBaseline": "alphabetic"}},
   "y": {"field": "y", "type": "quantitative", "title": "Age−standardised rate per 100,000 population",
    "scale": {"domain": [0.055, 1.139], "nice": false, "zero": false},
    "axis": {"values": [0.3, 0.6, 0.9], "format": ".1f", "labelPadding": 4, "titleX": -62, "titleBaseline": "alphabetic"}},
   "shape": {"field": "region", "type": "nominal", "title": null,
    "scale": {"domain": ["Global","High−income Asia Pacific","High−income North America","Western Europe","Australasia","Andean Latin America","Tropical Latin America","Central Latin America","Southern Latin America","Caribbean","Central Europe","Eastern Europe","Central Asia","North Africa and Middle East","South Asia","Southeast Asia","East Asia","Oceania","Western Sub−Saharan Africa","Eastern Sub−Saharan Africa","Central Sub−Saharan Africa","Southern Sub−Saharan Africa"],
     "range": ["circle","circle","M0,-1.5L1.3,0.75L-1.3,0.75Z","M-1.3,0L1.3,0M0,-1.3L0,1.3","M-1.1,-1.1L1.1,1.1M-1.1,1.1L1.1,-1.1","circle","M0,-1.5L1.3,0.75L-1.3,0.75Z","M-1.3,0L1.3,0M0,-1.3L0,1.3","M-1.1,-1.1L1.1,1.1M-1.1,1.1L1.1,-1.1","M-1,-1L1,-1L1,1L-1,1ZM-1,-1L1,1M-1,1L1,-1","circle","M0,-1.5L1.3,0.75L-1.3,0.75Z","M-1.3,0L1.3,0M0,-1.3L0,1.3","M-1.1,-1.1L1.1,1.1M-1.1,1.1L1.1,-1.1","M-1,-1L1,-1L1,1L-1,1ZM-1,-1L1,1M-1,1L1,-1","circle","M0,-1.5L1.3,0.75L-1.3,0.75Z","M-1.3,0L1.3,0M0,-1.3L0,1.3","M-1.1,-1.1L1.1,1.1M-1.1,1.1L1.1,-1.1","M-1,-1L1,-1L1,1L-1,1ZM-1,-1L1,1M-1,1L1,-1","circle","M0,-1.5L1.3,0.75L-1.3,0.75Z"]},
    "legend": {"orient": "none", "legendX": 1863, "legendY": 500, "rowPadding": -2}},
   "stroke": {"field": "region", "type": "nominal", "title": null,
    "scale": {"domain": ["Global","High−income Asia Pacific","High−income North America","Western Europe","Australasia","Andean Latin America","Tropical Latin America","Central Latin America","Southern Latin America","Caribbean","Central Europe","Eastern Europe","Central Asia","North Africa and Middle East","South Asia","Southeast Asia","East Asia","Oceania","Western Sub−Saharan Africa","Eastern Sub−Saharan Africa","Central Sub−Saharan Africa","Southern Sub−Saharan Africa"],
     "range": ["#000000","#FF0000","#FF0000","#FF0000","#FF0000","#DE9500","#DE9500","#DE9500","#DE9500","#DE9500","#3CB300","#3CB300","#3CB300","#00C49A","#F0884D","#0000FF","#0000FF","#0000FF","#A020F0","#A020F0","#A020F0","#A020F0"]},
    "legend": {"orient": "none", "legendX": 1863, "legendY": 500, "rowPadding": -2}},
   "fill": {"field": "region", "type": "nominal", "title": null,
    "scale": {"domain": ["Global","High−income Asia Pacific","High−income North America","Western Europe","Australasia","Andean Latin America","Tropical Latin America","Central Latin America","Southern Latin America","Caribbean","Central Europe","Eastern Europe","Central Asia","North Africa and Middle East","South Asia","Southeast Asia","East Asia","Oceania","Western Sub−Saharan Africa","Eastern Sub−Saharan Africa","Central Sub−Saharan Africa","Southern Sub−Saharan Africa"],
     "range": ["#000000","transparent","transparent","transparent","transparent","transparent","transparent","transparent","transparent","transparent","transparent","transparent","transparent","transparent","transparent","transparent","transparent","transparent","transparent","transparent","transparent","transparent"]},
    "legend": {"orient": "none", "legendX": 1863, "legendY": 500, "rowPadding": -2}}
  }
 },
 {
  "data": {"name": "smooth"},
  "mark": {"type": "line", "color": "black", "strokeWidth": 5, "interpolate": "monotone"},
  "encoding": {"x": {"field": "x", "type": "quantitative"}, "y": {"field": "y", "type": "quantitative"}}
 }
]
}
